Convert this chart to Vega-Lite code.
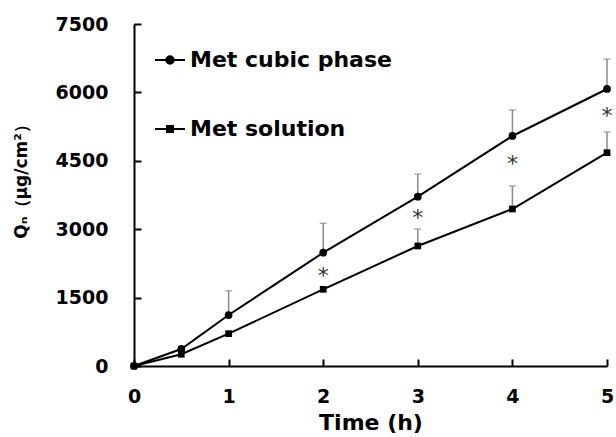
{
  "$schema": "https://vega.github.io/schema/vega-lite/v6.json",
  "autosize": {"type": "none"},
  "padding": {"left": 134, "top": 24, "right": 9, "bottom": 71},
  "width": 473,
  "height": 342,
  "background": "white",
  "config": {
    "view": {"stroke": null},
    "axis": {
      "grid": false,
      "domainColor": "black",
      "domainWidth": 2,
      "tickColor": "black",
      "tickWidth": 2,
      "tickSize": -7,
      "labelFont": "DejaVu Sans",
      "labelFontWeight": "bold",
      "labelFontSize": 19,
      "labelColor": "black",
      "titleFont": "DejaVu Sans",
      "titleFontWeight": "bold",
      "titleColor": "black"
    },
    "legend": {
      "labelFont": "DejaVu Sans",
      "labelFontWeight": "bold",
      "labelFontSize": 22,
      "labelColor": "black"
    }
  },
  "datasets": {
    "main": [
      {"time": 0, "series": "Met cubic phase", "mean": 0, "upper": null},
      {"time": 0.5, "series": "Met cubic phase", "mean": 373, "upper": null},
      {"time": 1, "series": "Met cubic phase", "mean": 1118, "upper": 1651},
      {"time": 2, "series": "Met cubic phase", "mean": 2485, "upper": 3129},
      {"time": 3, "series": "Met cubic phase", "mean": 3713, "upper": 4210},
      {"time": 4, "series": "Met cubic phase", "mean": 5044, "upper": 5614},
      {"time": 5, "series": "Met cubic phase", "mean": 6075, "upper": 6732},
      {"time": 0, "series": "Met solution", "mean": 0, "upper": null},
      {"time": 0.5, "series": "Met solution", "mean": 257, "upper": null},
      {"time": 1, "series": "Met solution", "mean": 709, "upper": null},
      {"time": 2, "series": "Met solution", "mean": 1682, "upper": null},
      {"time": 3, "series": "Met solution", "mean": 2632, "upper": 3004},
      {"time": 4, "series": "Met solution", "mean": 3443, "upper": 3947},
      {"time": 5, "series": "Met solution", "mean": 4678, "upper": 5132}
    ],
    "stars": [
      {"time": 2, "pos": 2083, "label": "*"},
      {"time": 3, "pos": 3355, "label": "*"},
      {"time": 4, "pos": 4539, "label": "*"},
      {"time": 5, "pos": 5599, "label": "*"}
    ]
  },
  "layer": [
    {
      "data": {"name": "main"},
      "transform": [{"filter": "isValid(datum.upper)"}],
      "mark": {"type": "rule", "color": "#8a8a8a", "strokeWidth": 1.5},
      "encoding": {
        "x": {"field": "time", "type": "quantitative"},
        "y": {"field": "mean", "type": "quantitative"},
        "y2": {"field": "upper"}
      }
    },
    {
      "data": {"name": "main"},
      "transform": [{"filter": "isValid(datum.upper)"}],
      "mark": {"type": "tick", "orient": "horizontal", "color": "#8a8a8a", "size": 7, "thickness": 1.5},
      "encoding": {
        "x": {"field": "time", "type": "quantitative"},
        "y": {"field": "upper", "type": "quantitative"}
      }
    },
    {
      "data": {"name": "main"},
      "mark": {"type": "line", "strokeWidth": 2},
      "encoding": {
        "x": {
          "field": "time", "type": "quantitative",
          "scale": {"domain": [0, 5], "nice": false, "zero": true},
          "axis": {
            "values": [0, 1, 2, 3, 4, 5],
            "format": "d",
            "labelFlush": false,
            "labelPadding": 28,
            "title": "Time (h)",
            "titleFontSize": 22,
            "titlePadding": 6
          }
        },
        "y": {
          "field": "mean", "type": "quantitative",
          "scale": {"domain": [0, 7500], "nice": false},
          "axis": {
            "values": [0, 1500, 3000, 4500, 6000, 7500],
            "format": "d",
            "labelFlush": false,
            "labelPadding": 33,
            "title": "Qₙ（μg/cm²）",
            "titleFontSize": 17,
            "titleBaseline": "middle",
            "titleAlign": "center",
            "titleX": -113,
            "titleY": 153
          }
        },
        "color": {
          "field": "series", "type": "nominal",
          "scale": {"domain": ["Met cubic phase", "Met solution"], "range": ["black", "black"]},
          "legend": {
            "title": null,
            "orient": "none",
            "legendX": 20,
            "legendY": 20,
            "padding": 0,
            "symbolSize": 900,
            "symbolStrokeWidth": 2,
            "symbolOpacity": 1,
            "labelOffset": 4,
            "labelLimit": 400,
            "rowPadding": 42,
            "encode": {
              "symbols": {
                "update": {
                  "fill": {"value": "black"},
                  "shape": {"signal": "datum.value == 'Met cubic phase' ? 'M-1,0H1M-0.25,0A0.25,0.25,0,1,0,0.25,0A0.25,0.25,0,1,0,-0.25,0Z' : 'M-1,0H1M-0.2,-0.2H0.2V0.2H-0.2Z'"}
                }
              }
            }
          }
        }
      }
    },
    {
      "data": {"name": "main"},
      "transform": [{"filter": "datum.series == 'Met cubic phase'"}],
      "mark": {"type": "point", "shape": "circle", "filled": true, "color": "black", "size": 60, "opacity": 1},
      "encoding": {
        "x": {"field": "time", "type": "quantitative"},
        "y": {"field": "mean", "type": "quantitative"}
      }
    },
    {
      "data": {"name": "main"},
      "transform": [{"filter": "datum.series == 'Met solution'"}],
      "mark": {"type": "point", "shape": "square", "filled": true, "color": "black", "size": 45, "opacity": 1},
      "encoding": {
        "x": {"field": "time", "type": "quantitative"},
        "y": {"field": "mean", "type": "quantitative"}
      }
    },
    {
      "data": {"name": "stars"},
      "mark": {"type": "text", "font": "DejaVu Sans", "fontSize": 22, "color": "#333333", "baseline": "middle", "dy": 5},
      "encoding": {
        "x": {"field": "time", "type": "quantitative"},
        "y": {"field": "pos", "type": "quantitative"},
        "text": {"field": "label"}
      }
    }
  ]
}
